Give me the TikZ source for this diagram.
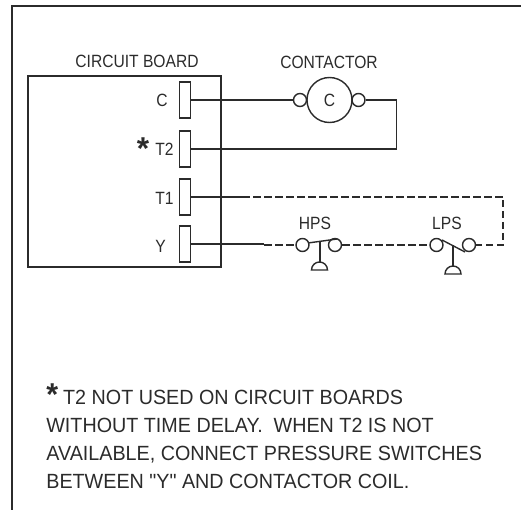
\documentclass[tikz,border=0pt]{standalone}
\usepackage{fontspec}
\setmainfont{Liberation Sans}
\newfontfamily\labelfont[FakeStretch=0.88]{Liberation Sans}
\newfontfamily\notefont[FakeStretch=0.96]{Liberation Sans}
\usetikzlibrary{positioning}
\definecolor{inkline}{HTML}{2B2B2B}
\newlength{\myu}
\setlength{\myu}{0.02cm}
\tikzset{
    mylabel/.style = {inner sep=0pt,font=\labelfont\fontsize{10.1}{12}\selectfont,text=inkline},
    mypin/.style = {mylabel,anchor=west},
    mynote/.style = {inner sep=0pt,align=left,anchor=north west,font=\notefont\fontsize{11.7}{15.9}\selectfont,text=inkline},
    mystar/.style = {inner sep=0pt,font=\bfseries\fontsize{18}{18}\selectfont,text=inkline},
    myterm/.style = {rectangle,draw=inkline,thick,minimum width=11.5\myu,minimum height=36\myu,inner sep=0pt},
    mydot/.style = {circle,draw=inkline,thick,fill=white,minimum size=13\myu,inner sep=0pt},
    mycoil/.style = {circle,draw=inkline,thick,minimum size=45\myu,inner sep=0pt,font=\labelfont\fontsize{10.1}{12}\selectfont,text=inkline},
    edgen/.style = {-,thick,inkline},
    edged/.style = {-,thick,inkline,dash pattern=on 7.5\myu off 3.5\myu},
    mydome/.style = {thick,draw=inkline,fill=white},
    myframe/.style = {draw=inkline,line width=0.8pt}
}
\begin{document}
\begin{tikzpicture}[x=0.02cm,y=-0.02cm]
\path[use as bounding box] (0,0) rectangle (521,510);
%
\coordinate (fa) at (12,510);
\coordinate (fb) at (12,6);
\coordinate (fc) at (521,6);
\draw[myframe] (fa) -- (fb) -- (fc);
\draw[myframe] (28,76) rectangle (221,267);
%
\node[mylabel] at (137,61) (board) {CIRCUIT BOARD};
\node[mylabel] at (329,62) (contactor) {CONTACTOR};
%
\node[myterm] at (185,100) (tc) {};
\node[myterm] at (185,149) (tt) {};
\node[myterm] at (185,197) (to) {};
\node[myterm] at (185,244) (ty) {};
\node[mypin] at (156,100) (lc) {C};
\node[mypin] at (155,149) (lt) {T2};
\node[mypin] at (155,198) (lo) {T1};
\node[mypin] at (155,246) (ly) {Y};
\node[mystar] at (143,149) (star) {*};
%
\node[mycoil] at (329.5,100) (coil) {C};
\node[mydot] at (300,100) (cl) {};
\node[mydot] at (358.5,100) (cr) {};
%
\coordinate (rt) at (396.5,100);
\coordinate (rb) at (396.5,149);
\draw[edgen] (tc.east) -- (cl);
\draw[edgen] (cr) -- (rt) -- (rb) -- (tt.east);
%
\node[mydot] at (302.5,245) (hl) {};
\node[mydot] at (335,245) (hr) {};
\node[mydot] at (436.5,245) (ll) {};
\node[mydot] at (469,245) (lr) {};
\node[mylabel] at (315,223) (hps) {HPS};
\node[mylabel] at (447,223) (lps) {LPS};
%
\coordinate (h1) at (242,197);
\coordinate (tr) at (503,197);
\coordinate (br) at (503,245);
\coordinate (y1) at (264,244);
\coordinate (y2) at (264,245);
\draw[edgen] (to.east) -- (h1);
\draw[edged] (h1) -- (tr) -- (br) -- (lr);
\draw[edgen] (ty.east) -- (y1);
\draw[edged] (y2) -- (hl);
\draw[edged] (hr) -- (ll);
%
\coordinate (ha) at (308,243);
\coordinate (hb) at (337,239);
\coordinate (hs) at (320,241);
\coordinate (hf) at (320,262);
\draw[edgen] (ha) -- (hb);
\draw[edgen] (hs) -- (hf);
\draw[mydome] (311.5,270) arc[start angle=180,end angle=360,radius=8] -- cycle;
\coordinate (la) at (442,240);
\coordinate (lb) at (465,252);
\coordinate (ls) at (453,245);
\coordinate (lf) at (453,266);
\draw[edgen] (la) -- (lb);
\draw[edgen] (ls) -- (lf);
\draw[mydome] (445,274) arc[start angle=180,end angle=360,radius=8] -- cycle;
%
\node[mynote] at (46,390) (note) {\smash{\raisebox{-0.5pt}{\bfseries\fontsize{18}{18}\selectfont *}}\hspace*{5\myu}T2 NOT USED ON CIRCUIT BOARDS\\WITHOUT TIME DELAY.\ \ WHEN T2 IS NOT\\AVAILABLE, CONNECT PRESSURE SWITCHES\\BETWEEN "Y" AND CONTACTOR COIL.};
\end{tikzpicture}
\end{document}
